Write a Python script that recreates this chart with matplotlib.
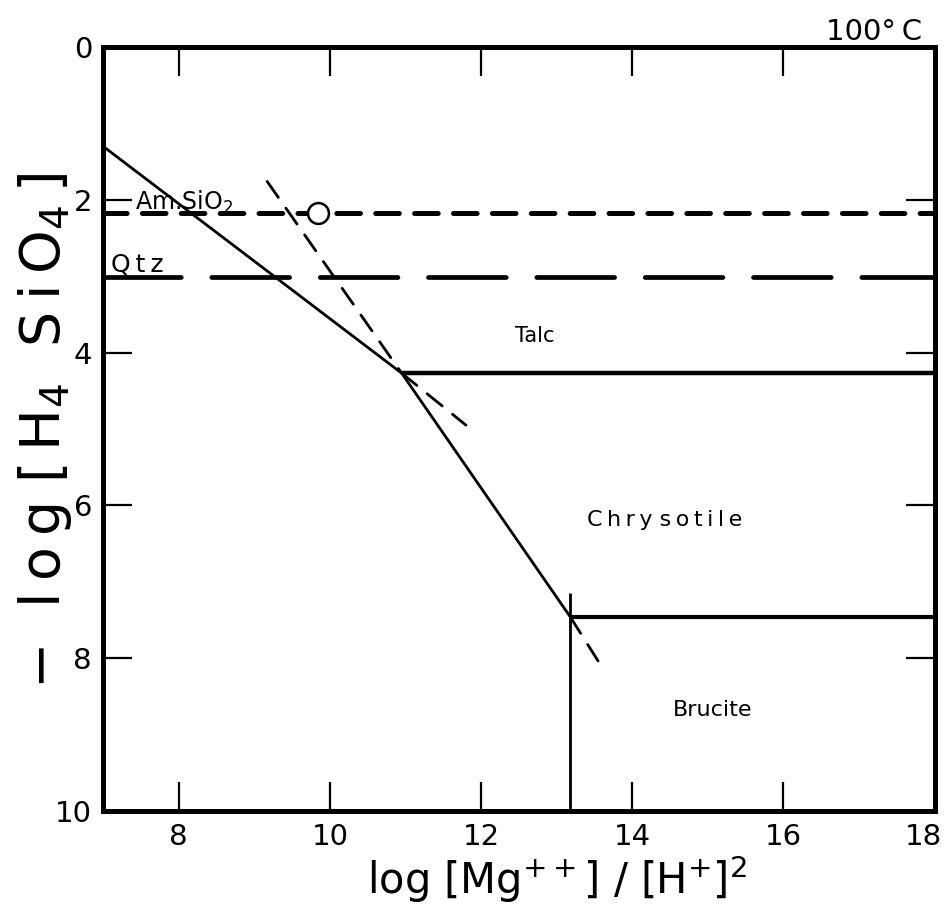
import matplotlib
matplotlib.use("Agg")
import matplotlib.pyplot as plt
from matplotlib.transforms import ScaledTranslation

plt.rcParams["font.family"] = ["DejaVu Sans"]
plt.rcParams["lines.scale_dashes"] = False
plt.rcParams["mathtext.fontset"] = "dejavusans"

# Stability field boundaries, 100 °C (x = log[Mg++]/[H+]^2, y = -log[H4SiO4])
talc_line_x = [7.0, 10.95]
talc_line_y = [1.30, 4.27]
chrysotile_line_x = [10.95, 13.18]
chrysotile_line_y = [4.27, 7.46]
talc_chrysotile_x = [10.95, 18.0]
talc_chrysotile_y = [4.27, 4.27]
chrysotile_brucite_x = [13.18, 18.0]
chrysotile_brucite_y = [7.46, 7.46]
brucite_line_x = [13.18, 13.18]
brucite_line_y = [7.15, 10.0]

# Metastable extensions
chrysotile_ext_upper_x = [9.17, 10.95]
chrysotile_ext_upper_y = [1.76, 4.27]
talc_ext_x = [10.95, 11.80]
talc_ext_y = [4.27, 4.95]
chrysotile_ext_lower_x = [13.18, 13.55]
chrysotile_ext_lower_y = [7.46, 8.04]

# Silica saturation levels
am_sio2_level = 2.17
qtz_level = 3.01
point_x = [9.84]
point_y = [2.17]

x_ticks = [8, 10, 12, 14, 16, 18]
y_ticks = [0, 2, 4, 6, 8, 10]

T = "\u2009"  # thin space used for wide lettering


def spaced(word):
    return T.join(word)


fig = plt.figure(figsize=(9.46, 9.18), dpi=100)
ax = fig.add_axes([0.109, 0.1166, 0.879, 0.8322])

ax.set_xlim(7, 18)
ax.set_ylim(10, 0)

solid = dict(color="black", solid_capstyle="butt")
ax.plot(talc_line_x, talc_line_y, lw=2.0, **solid)
ax.plot(chrysotile_line_x, chrysotile_line_y, lw=2.0, **solid)
ax.plot(talc_chrysotile_x, talc_chrysotile_y, lw=3.2, **solid)
ax.plot(chrysotile_brucite_x, chrysotile_brucite_y, lw=3.0, **solid)
ax.plot(brucite_line_x, brucite_line_y, lw=2.0, **solid)

dash_thin = (0, (14, 9.5))
for xs, ys in [(chrysotile_ext_upper_x, chrysotile_ext_upper_y),
               (talc_ext_x, talc_ext_y),
               (chrysotile_ext_lower_x, chrysotile_ext_lower_y)]:
    ax.plot(xs, ys, color="black", lw=2.0, linestyle=dash_thin,
            dash_capstyle="round")

ax.plot([7, 18], [am_sio2_level] * 2, color="black", lw=3.6,
        linestyle=(0, (17, 11)), dash_capstyle="round")
ax.plot([7, 18], [qtz_level] * 2, color="black", lw=3.4,
        linestyle=(0, (56, 22)), dash_capstyle="round")

ax.plot(point_x, point_y, marker="o", markersize=15, markerfacecolor="white",
        markeredgecolor="black", markeredgewidth=1.8, linestyle="none",
        zorder=5)

# Field labels
ax.text(7.42, 2.03, "Am.SiO$_2$", fontsize=17, ha="left", va="center")
ax.text(7.1, 2.85, spaced("Qtz"), fontsize=18, ha="left", va="center")
ax.text(12.71, 3.78, "Talc", fontsize=15, ha="center", va="center")
ax.text(14.43, 6.19, spaced("Chry") + " " + spaced("sotile"), fontsize=16,
        ha="center", va="center")
ax.text(15.06, 8.68, "Brucite", fontsize=16, ha="center", va="center")
ax.text(17.2, -0.2, "100°" + T + "C", fontsize=21, ha="center", va="center")

ax.set_xticks(x_ticks)
ax.set_xticklabels([str(v) for v in x_ticks])
ax.set_yticks(y_ticks)
ax.set_yticklabels([str(v) for v in y_ticks])

ax.tick_params(axis="both", which="major", direction="in", length=21,
               width=1.6, top=True, right=True, labelsize=21)
ax.tick_params(axis="x", pad=9)
ax.tick_params(axis="y", pad=8)

# keep the last x label inside the figure edge
last = ax.get_xticklabels()[-1]
last.set_transform(last.get_transform() +
                   ScaledTranslation(-8 / 72, 0, fig.dpi_scale_trans))

for sp in ax.spines.values():
    sp.set_linewidth(3.6)

ylab = "−" + "  " + spaced("log") + " " + "[" + T + "H$_4$" + "  " + \
    spaced("Si") + T + "O$_4$" + T + "]"
fig.text(0.048, 0.53, ylab, rotation=90, fontsize=40,
         ha="center", va="center")
xlab = "log [Mg$^{++}$] / [H$^{+}$]$^{2}$"
fig.text(0.589, 0.042, xlab, fontsize=30, ha="center", va="center")

fig.savefig("out.png", dpi=100)
